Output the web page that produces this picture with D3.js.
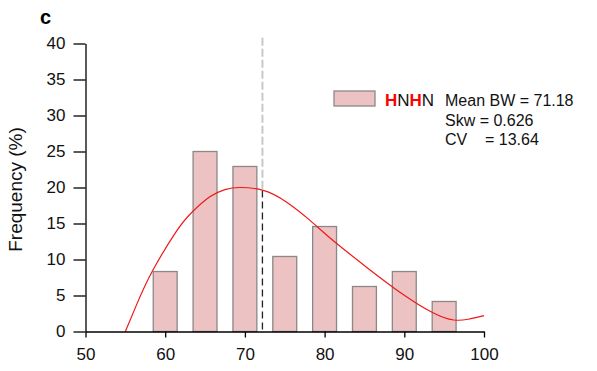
<!DOCTYPE html>
<html>
<head>
<meta charset="utf-8">
<script src="https://cdn.jsdelivr.net/npm/d3@7"></script>
<style>
  body { margin: 0; background: #fff; }
  svg { font-family: "Liberation Sans", Arial, sans-serif; }
</style>
</head>
<body>
<svg id="chart"></svg>
<script>
const binCenters = [60, 65, 70, 75, 80, 85, 90, 95];
const binFreq = [8.33, 25, 22.92, 10.42, 14.58, 6.25, 8.33, 4.17];
const binWidth = 3;
const fitCurve = [
  [55, 0], [56.4, 3.7], [58.4, 8.4], [61.4, 13.9], [63.3, 16.5], [65.6, 18.7], [67.5, 19.7],
  [69.3, 20.0], [72.3, 19.6], [75.2, 18.0], [78.1, 15.5], [81.1, 12.6], [85.3, 8.9],
  [89.4, 5.5], [93.6, 2.6], [96.2, 1.6], [98, 1.7], [100, 2.2]
];
const markX = 72.2;
const markCurveY = 19.6;
const markTop = 40.8;
const xTicks = [50, 60, 70, 80, 90, 100];
const yTicks = [0, 5, 10, 15, 20, 25, 30, 35, 40];
const statLines = ["Mean BW = 71.18", "Skw = 0.626", "CV    = 13.64"];

const width = 597, height = 371;
const margin = { top: 43.5, right: 113, bottom: 39.5, left: 85.5 };

const svg = d3.select("#chart").attr("width", width).attr("height", height);

const x = d3.scaleLinear().domain([50, 100]).range([margin.left, width - margin.right]);
const y = d3.scaleLinear().domain([0, 40]).range([height - margin.bottom, margin.top]);

// bars
svg.selectAll(".bar").data(binCenters).enter().append("rect")
  .attr("x", d => x(d - binWidth / 2))
  .attr("width", x(binWidth) - x(0))
  .attr("y", (d, i) => y(binFreq[i]))
  .attr("height", (d, i) => y(0) - y(binFreq[i]))
  .attr("fill", "#ecc2c2").attr("stroke", "#8c8888").attr("stroke-width", 1.3);

// mean line
svg.append("line").attr("x1", x(markX)).attr("x2", x(markX)).attr("y1", y(markTop)).attr("y2", y(markCurveY))
  .attr("stroke", "#c8c8c8").attr("stroke-width", 2).attr("stroke-dasharray", "8,3");
svg.append("line").attr("x1", x(markX)).attr("x2", x(markX)).attr("y1", y(markCurveY)).attr("y2", y(0))
  .attr("stroke", "#222").attr("stroke-width", 1.3).attr("stroke-dasharray", "7,4");

// fitted curve
const line = d3.line().x(d => x(d[0])).y(d => y(d[1])).curve(d3.curveNatural);
svg.append("path").datum(fitCurve).attr("fill", "none").attr("stroke", "#f01818").attr("stroke-width", 1.2).attr("d", line);

// axes
const xAxis = svg.append("g").attr("transform", `translate(0,${y(0)})`)
  .call(d3.axisBottom(x).tickValues(xTicks).tickSize(6).tickSizeOuter(0).tickPadding(10));
const yAxis = svg.append("g").attr("transform", `translate(${x(50)},0)`)
  .call(d3.axisLeft(y).tickValues(yTicks).tickSize(12).tickSizeOuter(0).tickPadding(8));
[xAxis, yAxis].forEach(g => {
  g.select(".domain").attr("stroke", "#000").attr("stroke-width", 1.3);
  g.selectAll(".tick line").attr("stroke", "#000").attr("stroke-width", 1.3);
  g.selectAll(".tick text").attr("font-size", 17).attr("fill", "#111").attr("font-family", "Liberation Sans, Arial, sans-serif");
});

svg.append("text").attr("transform", `translate(22,${(y(0) + y(40)) / 2 + 2}) rotate(-90)`)
  .attr("text-anchor", "middle").attr("font-size", 19).attr("fill", "#111").text("Frequency (%)");

svg.append("text").attr("x", 40).attr("y", 24).attr("font-size", 20).attr("font-weight", "bold").text("c");

// legend
svg.append("rect").attr("x", 334).attr("y", 91).attr("width", 41).attr("height", 15)
  .attr("fill", "#ecc2c2").attr("stroke", "#8c8888").attr("stroke-width", 1.3);
const lab = svg.append("text").attr("x", 385).attr("y", 106).attr("font-size", 17).attr("fill", "#111");
lab.append("tspan").attr("fill", "#ff0000").attr("font-weight", "bold").text("H");
lab.append("tspan").text("N");
lab.append("tspan").attr("fill", "#ff0000").attr("font-weight", "bold").text("H");
lab.append("tspan").text("N");
svg.selectAll(".stat").data(statLines).enter().append("text")
  .attr("x", 445).attr("y", (d, i) => 106 + i * 19.5)
  .attr("font-size", 16).attr("fill", "#111").attr("xml:space", "preserve").style("white-space", "pre").text(d => d);
</script>
</body>
</html>
